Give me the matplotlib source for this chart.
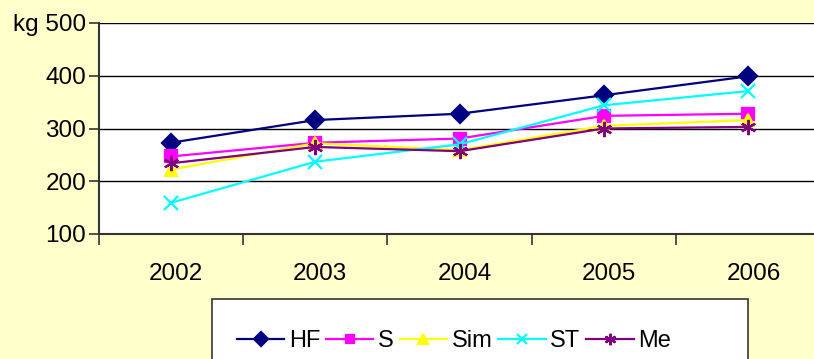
import matplotlib
matplotlib.use("Agg")
import matplotlib.pyplot as plt
import matplotlib.transforms as mtransforms
from matplotlib.patches import Rectangle

years = ["2002", "2003", "2004", "2005", "2006"]
hf = [273, 316, 328, 363, 399]
s = [247, 273, 281, 324, 328]
sim = [222, 272, 259, 305, 316]
st = [159, 237, 270, 344, 371]
me = [234, 265, 257, 300, 303]

series = [
    ("HF", hf, "#000080", "D", 9),
    ("S", s, "#FF00FF", "s", 8),
    ("Sim", sim, "#FFFF00", "^", 9),
    ("ST", st, "#00FFFF", "x", 10),
    ("Me", me, "#800080", (6, 2, 0), 11),
]

bg = "#FFFFCC"
plt.rcParams["font.family"] = ["Liberation Sans", "DejaVu Sans"]

fig = plt.figure(figsize=(8.14, 3.59), dpi=100, facecolor=bg)
ax = fig.add_axes([98.6 / 814, 1 - 234 / 359, 722 / 814, 211 / 359])
ax.set_facecolor("white")

x = list(range(1, len(years) + 1))
handles = []
for name, vals, col, mk, ms in series:
    h, = ax.plot(x, vals, color=col, lw=1.6, marker=mk, markersize=ms,
                 markerfacecolor=col, markeredgecolor=col, markeredgewidth=1.6,
                 label=name, clip_on=False)
    handles.append(h)

ax.set_xlim(0.5, 5.5)
ax.set_ylim(100, 500)
ax.set_yticks([100, 200, 300, 400, 500])
ax.set_yticklabels(["100", "200", "300", "400", "kg 500"])
ax.yaxis.grid(True, color="black", lw=1.0)
ax.set_axisbelow(True)

ax.set_xticks(x)
ax.set_xticklabels(years)
ax.set_xticks([0.5, 1.5, 2.5, 3.5, 4.5, 5.5], minor=True)
ax.tick_params(axis="x", which="major", length=0, pad=21, labelsize=17.5)
ax.tick_params(axis="x", which="minor", length=8, width=1.2, color="#333333")
ax.tick_params(axis="y", length=7, width=1.2, color="#333333", pad=2, labelsize=17.5)

# labels sit a little right of the category centre in the original
shift = mtransforms.ScaledTranslation(5 / 100, 0, fig.dpi_scale_trans)
for lbl in ax.get_xticklabels():
    lbl.set_transform(lbl.get_transform() + shift)

for side in ["top", "right"]:
    ax.spines[side].set_visible(False)
for side in ["left", "bottom"]:
    ax.spines[side].set_color("#333333")
    ax.spines[side].set_linewidth(1.5)

# legend box (extends below the picture edge like the original)
fig.patches.append(Rectangle((212 / 814, -0.2), (748 - 212) / 814, 0.2 + (359 - 299) / 359,
                             transform=fig.transFigure, facecolor="white",
                             edgecolor="#333333", lw=1.2, zorder=0))
fig.legend(handles=handles, loc="center left", bbox_to_anchor=(237 / 814, 1 - 341 / 359),
           ncol=5, frameon=False, fontsize=17, handlelength=2.0, handletextpad=0.2,
           columnspacing=0.25, borderaxespad=0, borderpad=0, markerscale=0.75)

fig.savefig("out.png", dpi=100, facecolor=bg)
